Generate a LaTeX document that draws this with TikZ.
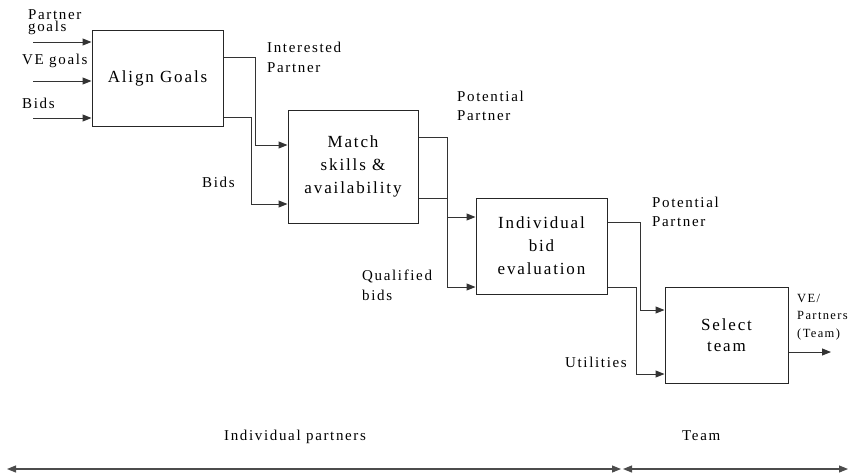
\documentclass[tikz,border=0pt]{standalone}
\usepackage{fontspec}
\setmainfont{Liberation Serif}[LetterSpace=11]
\usetikzlibrary{arrows.meta}

% left-aligned stack of lines; baseline of the box = baseline of the first line
\newcommand\lstack[2]{\vtop{\baselineskip=#1\relax\lineskiplimit=-\maxdimen
  \halign{##\hfil\cr#2\crcr}}}

\tikzset{
  procbox/.style={draw=black!85, line width=1pt, align=center, inner sep=0pt,
    font=\fontsize{17}{23}\selectfont},
  flow/.style={draw=black!80, line width=1pt,
    -{Triangle[length=9pt,width=7pt]}},
  span/.style={draw=black!70, line width=1.1pt,
    {Triangle[length=9pt,width=7pt]}-{Triangle[length=9pt,width=7pt]}},
  lbl/.style={anchor=base west, inner sep=0pt, font=\fontsize{15}{19}\selectfont},
  small/.style={anchor=base west, inner sep=0pt, font=\fontsize{12.5}{17}\selectfont},
  phase/.style={anchor=base west, inner sep=0pt, font=\fontsize{15}{19}\selectfont}
}

\begin{document}
\begin{tikzpicture}[x=1pt,y=-1pt]
\useasboundingbox (0,0) rectangle (853,475);

% process boxes
\node[procbox, minimum width=131, minimum height=96] (align) at (157.5,78) {Align Goals};
\node[procbox, minimum width=130, minimum height=113] (match) at (353,166.5) {Match\\skills \&\\availability};
\node[procbox, minimum width=131, minimum height=96] (indiv) at (541.5,246) {Individual\\bid\\evaluation};
\node[procbox, minimum width=123, minimum height=96, font=\fontsize{17}{21}\selectfont] (select) at (726.5,335) {Select\\team};

% inputs
\coordinate (inA) at (33,42);
\coordinate (inB) at (33,81);
\coordinate (inC) at (33,118);
\draw[flow] (inA) -- (align.west |- inA);
\draw[flow] (inB) -- (align.west |- inB);
\draw[flow] (inC) -- (align.west |- inC);
\node[lbl] (lpg) at (28,19) {\lstack{12pt}{Partner\cr goals}};
\node[lbl] (lve) at (22,64) {VE goals};
\node[lbl] (lbids) at (22,108) {Bids};

% align -> match
\draw[flow] (align.east |- 0,57) -- (255,57) -- (255,145) -- (match.west |- 0,145);
\draw[flow] (align.east |- 0,117) -- (251,117) -- (251,204) -- (match.west |- 0,204);
\node[lbl] (lint) at (267,52) {\lstack{20pt}{Interested\cr Partner}};
\node[lbl] (lbids2) at (202,187) {Bids};

% match -> individual evaluation
\draw[flow] (match.east |- 0,137) -- (447,137) -- (447,217) -- (indiv.west |- 0,217);
\draw[flow] (match.east |- 0,198) -- (447,198) -- (447,287) -- (indiv.west |- 0,287);
\node[lbl] (lpot1) at (457,101) {\lstack{19pt}{Potential\cr Partner}};
\node[lbl] (lqual) at (362,280) {\lstack{20pt}{Qualified\cr bids}};

% individual evaluation -> select team
\draw[flow] (indiv.east |- 0,222) -- (640,222) -- (640,310) -- (select.west |- 0,310);
\draw[flow] (indiv.east |- 0,287) -- (636,287) -- (636,374) -- (select.west |- 0,374);
\node[lbl] (lpot2) at (652,207) {\lstack{19pt}{Potential\cr Partner}};
\node[lbl] (lutil) at (565,367) {Utilities};

% output
\coordinate (out) at (831,352);
\draw[flow] (select.east |- out) -- (out);
\node[small] (lteam) at (797,302) {\lstack{17.5pt}{VE/\cr Partners\cr (Team)}};

% phases
\coordinate (pL) at (7,469);
\coordinate (pM1) at (621,469);
\coordinate (pM2) at (623,469);
\coordinate (pR) at (848,469);
\draw[span] (pL) -- (pM1);
\draw[span] (pM2) -- (pR);
\node[phase] (lip) at (224,440) {Individual partners};
\node[phase] (ltm) at (682,440) {Team};
\end{tikzpicture}
\end{document}
